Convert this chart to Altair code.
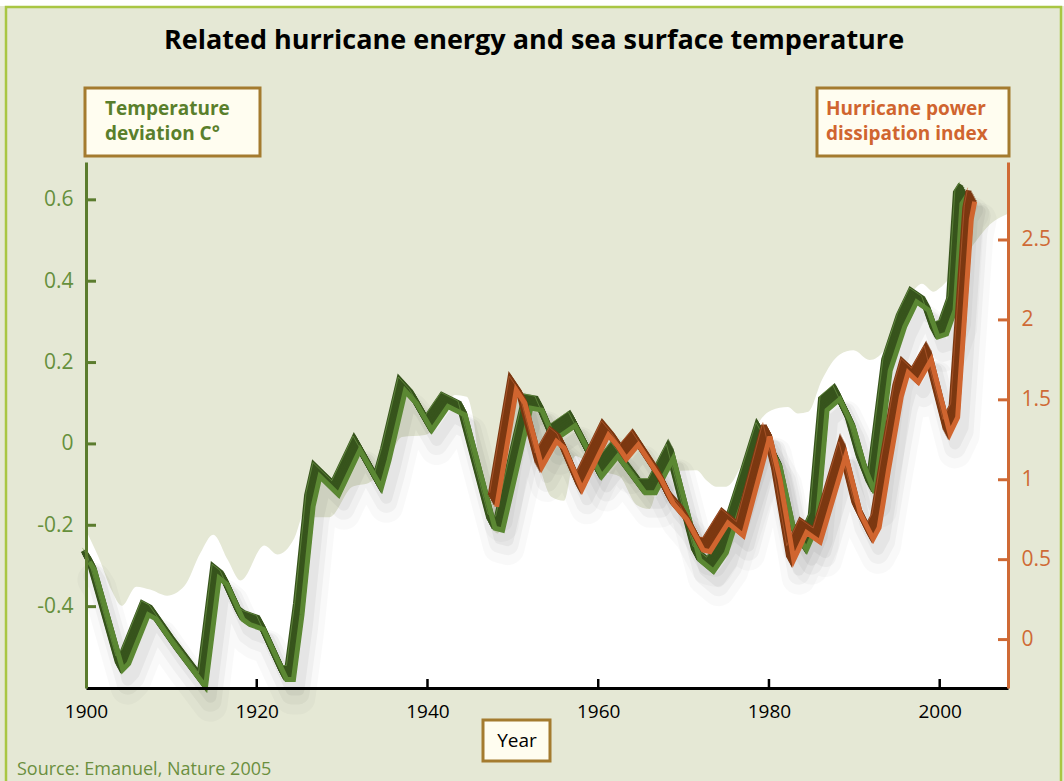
import altair as alt
import pandas as pd

FONT = "Open Sans"

# Sea surface temperature deviation (deg C), smoothed series
temp_year = [1900.4, 1901, 1904.3, 1905, 1907.3, 1908.2, 1910.7, 1914, 1915.6, 1916.5,
             1918.4, 1919.2, 1920.8, 1923.5, 1924.3, 1925.3, 1926.6, 1927.4, 1929.6, 1932.1,
             1934.6, 1935.5, 1937.4, 1938.7, 1940.5, 1942.4, 1944.4, 1947.9, 1948.8, 1952.1,
             1953.4, 1954.9, 1957.3, 1960.4, 1962.3, 1965.5, 1966.7, 1968.8, 1971.9, 1973.5,
             1975.0, 1977.0, 1979.3, 1981.3, 1982.9, 1984.4, 1985.6, 1986.8, 1988.3, 1989.9,
             1991.2, 1992.4, 1994.2, 1995.9, 1997.3, 1998.7, 1999.8, 2000.8, 2001.8, 2002.6,
             2003.2]
temp_val = [-0.29, -0.31, -0.555, -0.54, -0.42, -0.43, -0.505, -0.597, -0.33, -0.345,
            -0.432, -0.444, -0.456, -0.579, -0.579, -0.42, -0.154, -0.08, -0.125, -0.015,
            -0.108, -0.04, 0.13, 0.10, 0.034, 0.092, 0.071, -0.207, -0.212, 0.088,
            0.083, 0.01, 0.045, -0.08, -0.03, -0.12, -0.12, -0.035, -0.285, -0.313,
            -0.268, -0.137, 0.018, -0.056, -0.21, -0.26, -0.203, 0.083, 0.11, 0.04,
            -0.056, -0.12, 0.18, 0.288, 0.349, 0.329, 0.263, 0.27, 0.329, 0.59,
            0.61]

# Hurricane power dissipation index, smoothed series
pdi_year = [1948.1, 1950.4, 1951.4, 1953.4, 1955.1, 1956.0, 1958.1, 1961.2, 1962.3, 1963.3,
            1964.7, 1967.4, 1968.8, 1970.4, 1972.3, 1973.1, 1975.2, 1977.0, 1980.1, 1981.3,
            1982.9, 1984.4, 1986.0, 1989.0, 1990.7, 1992.2, 1992.9, 1994.0, 1995.5, 1996.3,
            1997.5, 1999.0, 2001.2, 2002.1, 2003.7, 2004.1]
pdi_val = [0.83, 1.56, 1.48, 1.08, 1.24, 1.20, 0.94, 1.28, 1.21, 1.13,
           1.22, 1.00, 0.85, 0.75, 0.56, 0.55, 0.73, 0.65, 1.27, 1.00,
           0.50, 0.67, 0.61, 1.15, 0.79, 0.63, 0.70, 1.06, 1.52, 1.67,
           1.61, 1.75, 1.29, 1.39, 2.63, 2.74]

# Upper edge of the pale backdrop glow (temperature units)
glow_year = [1900, 1901.5, 1903, 1904.2, 1905.9, 1907.5, 1909.5, 1911.5, 1913.4, 1914.9,
             1916.6, 1918.1, 1920.9, 1922.4, 1924.4, 1925.6, 1926.6, 1928.5, 1931.2, 1933.1,
             1935, 1937, 1939.7, 1942, 1943.2, 1944.6, 1945.3, 1946.3, 1948.2, 1950,
             1951.5, 1953, 1954.5, 1956, 1957.3, 1959, 1961, 1962.5, 1964.5, 1966,
             1967.5, 1971.5, 1972.7, 1973.8, 1975.0, 1976.7, 1978.3, 1980.3, 1982.2, 1983.4,
             1984.6, 1986.2, 1988.3, 1989.9, 1991.8, 1993.5, 1995, 1997.3, 1997.9, 1999.3,
             2000, 2002, 2004.3, 2005.9, 2008]
glow_val = [-0.213, -0.28, -0.36, -0.398, -0.351, -0.358, -0.373, -0.35, -0.268, -0.223,
            -0.285, -0.336, -0.25, -0.272, -0.232, -0.17, -0.18, -0.18, -0.105, -0.096,
            -0.06, 0.017, 0.022, 0.075, 0.12, 0.116, 0.07, -0.09, -0.22, -0.08,
            0.02, -0.05, -0.13, -0.14, -0.03, -0.05, -0.07, -0.08, -0.15, -0.16,
            -0.07, -0.065, -0.09, -0.105, -0.105, -0.055, 0.034, 0.083, 0.091, 0.075,
            0.079, 0.157, 0.22, 0.23, 0.206, 0.23, 0.30, 0.386, 0.394, 0.374,
            0.383, 0.43, 0.50, 0.54, 0.566]

temp_ticks = [-0.4, -0.2, 0, 0.2, 0.4, 0.6]
pdi_ticks = [0, 0.5, 1, 1.5, 2, 2.5]
year_labels = [1900, 1920, 1940, 1960, 1980, 2000]
year_ticks = [1920, 1940, 1960, 1980, 2000]

W, H = 922, 526
T_MIN, T_MAX = -0.6, 0.693
BG = "#e5e8d5"
FRAME = "#a9c643"
GREEN_AX = "#5b7c2e"
GREEN_TXT = "#66903c"
ORANGE = "#cf6a35"
BOX_EDGE = "#a47b2f"
BOX_FILL = "#fffdf0"

temp = pd.DataFrame({"year": temp_year, "value": temp_val})
pdi = pd.DataFrame({"year": pdi_year, "value": pdi_val})
glow = pd.DataFrame({"year": glow_year, "value": glow_val})
one = pd.DataFrame({"k": [0]})

x_scale = alt.Scale(domain=[1900, 2008], nice=False, zero=False)
t_scale = alt.Scale(domain=[T_MIN, T_MAX], nice=False, zero=False)
p_scale = alt.Scale(domain=[-0.303, 2.988], nice=False, zero=False)

x_axis = alt.Axis(values=year_labels, format="d", title=None, grid=False, ticks=False,
                  domainColor="black", domainWidth=3, labelFont=FONT, labelFontSize=19,
                  labelColor="black", labelPadding=14, labelFlush=False, zindex=1)
X = alt.X("year:Q", scale=x_scale, axis=x_axis)

t_axis = alt.Axis(orient="left", values=temp_ticks, title=None, grid=False, ticks=False,
                  domainColor=GREEN_AX, domainWidth=3, labelFont=FONT, labelFontSize=21,
                  labelColor=GREEN_TXT, labelPadding=13, labelFlush=False, zindex=1,
                  labelExpr="datum.value == 0 ? '0' : (datum.value < 0 ? '-' : '') + format(abs(datum.value), '.1f')")
p_axis = alt.Axis(orient="right", values=pdi_ticks, title=None, grid=False, ticks=False,
                  domainColor=ORANGE, domainWidth=3, labelFont=FONT, labelFontSize=21,
                  labelColor=ORANGE, labelPadding=13, labelFlush=False, zindex=1,
                  labelExpr="datum.value + ''")


def yenc(scale, axis=None):
    return alt.Y("value:Q", scale=scale, axis=axis)


# pale glow behind the curves, filled down to the bottom of the plot
backdrop = alt.Chart(glow).mark_area(color="white", interpolate="monotone").encode(
    x=X, y=yenc(t_scale, t_axis), y2=alt.datum(T_MIN))


def shadow(df, scale):
    parts = []
    for w, op, dy in [(34, 0.025, 18), (22, 0.035, 14), (12, 0.045, 10)]:
        parts.append(alt.Chart(df).mark_line(
            color="black", opacity=op, strokeWidth=w, xOffset=5, yOffset=dy,
            strokeJoin="round", strokeCap="round").encode(x=X, y=yenc(scale)))
    return parts


def ribbon(df, scale, dark, light, edge, axis=None):
    # extruded band: dark copies stepping up-left, bright front edge on top
    parts = []
    for k in [6, 5, 4, 3, 2, 1]:
        parts.append(alt.Chart(df).mark_line(
            color=dark, strokeWidth=6, xOffset=-1.0 * k, yOffset=-1.9 * k).encode(
            x=X, y=yenc(scale)))
    parts.append(alt.Chart(df).mark_line(
        color=edge, strokeWidth=1, opacity=0.55, xOffset=-7, yOffset=-14).encode(
        x=X, y=yenc(scale)))
    parts.append(alt.Chart(df).mark_line(color=light, strokeWidth=5).encode(
        x=X, y=yenc(scale, axis)))
    return parts


t_tick_df = pd.DataFrame({"value": temp_ticks})
p_tick_df = pd.DataFrame({"value": pdi_ticks})
x_tick_df = pd.DataFrame({"year": year_ticks})

t_ticks = alt.Chart(t_tick_df).mark_rule(color=GREEN_AX, strokeWidth=3).encode(
    y=yenc(t_scale), x=alt.value(0), x2=alt.value(10))
p_ticks = alt.Chart(p_tick_df).mark_rule(color=ORANGE, strokeWidth=3).encode(
    y=yenc(p_scale), x=alt.value(W - 10), x2=alt.value(W))
x_ticks = alt.Chart(x_tick_df).mark_rule(color="black", strokeWidth=2.5).encode(
    x=X, y=alt.value(H - 9), y2=alt.value(H))


def box(x1, x2, y1, y2):
    return alt.Chart(one).mark_rect(fill=BOX_FILL, stroke=BOX_EDGE, strokeWidth=3).encode(
        x=alt.value(x1), x2=alt.value(x2), y=alt.value(y1), y2=alt.value(y2))


def label(s, x, y, size, color, weight="normal", align="left", baseline="alphabetic"):
    return alt.Chart(one).mark_text(
        font=FONT, fontSize=size, fontWeight=weight, color=color, align=align,
        baseline=baseline).encode(x=alt.value(x), y=alt.value(y), text=alt.value(s))


# page frame (plot origin sits at 86,162 on the page)
top_strip = alt.Chart(one).mark_rect(color="white").encode(
    x=alt.value(-86), x2=alt.value(978), y=alt.value(-162), y2=alt.value(-156))
frame = alt.Chart(one).mark_rect(fill=BG, fillOpacity=0, stroke=FRAME, strokeWidth=2.5).encode(
    x=alt.value(-80), x2=alt.value(975), y=alt.value(-155), y2=alt.value(700))

decor = [
    top_strip, frame,
    label("Related hurricane energy and sea surface temperature", 448, -113, 27, "black", "bold", "center"),
    box(-1, 174, -74, -6),
    label("Temperature", 19, -47, 19, "#5a7f2c", "bold"),
    label("deviation C\u00b0", 19, -22, 19, "#5a7f2c", "bold"),
    box(731, 923, -74, -6),
    label("Hurricane power", 740, -47, 19, "#d0652f", "bold"),
    label("dissipation index", 740, -22, 19, "#d0652f", "bold"),
    box(397, 464, 558, 599),
    label("Year", 431, 585, 19, "black", "normal", "center"),
    label("Source: Emanuel, Nature 2005", -69, 613, 18, "#6b8f3e"),
]

layers = ([backdrop] + shadow(temp, t_scale) + shadow(pdi, p_scale)
          + ribbon(temp, t_scale, "#37541c", "#5b8833", "#7aa552")
          + ribbon(pdi, p_scale, "#7c3811", "#d0652f", "#c4683a", axis=p_axis)
          + [t_ticks, p_ticks, x_ticks] + decor)

chart = alt.layer(*layers).resolve_scale(y="independent").properties(
    width=W, height=H,
    padding={"left": 86, "top": 162, "right": 56, "bottom": 93},
    autosize=alt.AutoSizeParams(type="none"),
    background=BG,
).configure_view(stroke=None)

chart.save("out.html", embed_options={"renderer": "svg", "actions": False})
